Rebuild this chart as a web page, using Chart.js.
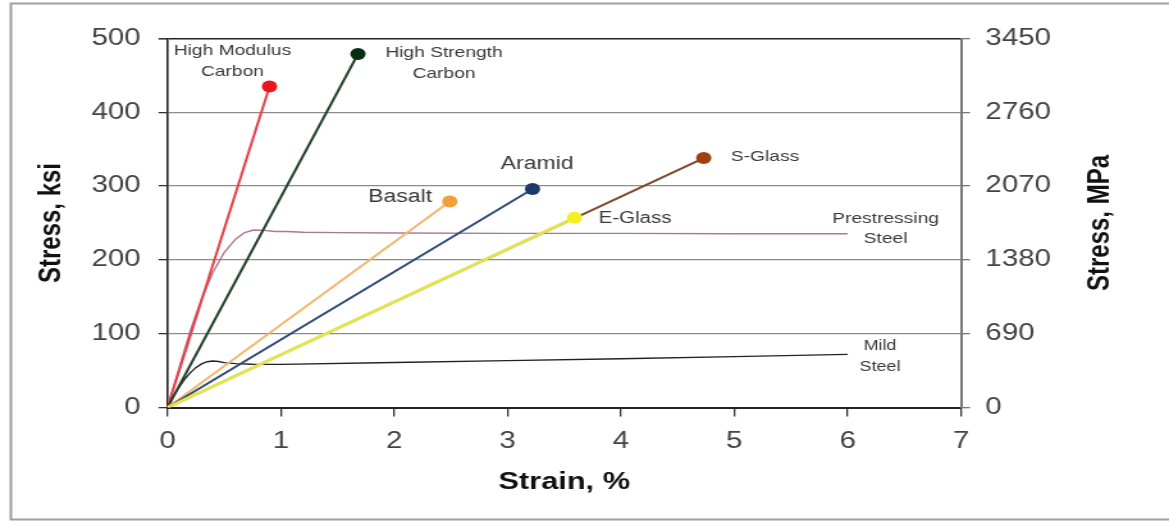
<!DOCTYPE html>
<html>
<head>
<meta charset="utf-8">
<title>Stress-strain curves</title>
<script src="https://cdn.jsdelivr.net/npm/chart.js@4.4.1/dist/chart.umd.min.js"></script>
<style>
  html, body { margin: 0; padding: 0; background: #fff; overflow: hidden; }
  /* the figure is laid out narrow and widened horizontally */
  #wrap { position: absolute; left: 0; top: 0; width: 913px; height: 521px;
          transform: scaleX(1.28039); transform-origin: 0 0; }
  canvas { display: block; }
</style>
</head>
<body>
<div id="wrap"><canvas id="c"></canvas></div>
<script>
// ---- tick values ----
const strainTicks = [0, 1, 2, 3, 4, 5, 6, 7];
const ksiTicks = [0, 100, 200, 300, 400, 500];
const mpaTicks = [0, 690, 1380, 2070, 2760, 3450];

// ---- material curves (strain in %, stress in ksi) ----
const highModulusStrain = [0, 0.90];
const highModulusStress = [0, 435];
const highStrengthStrain = [0, 1.68];
const highStrengthStress = [0, 479];
const basaltStrain = [0, 2.49];
const basaltStress = [0, 279];
const aramidStrain = [0, 3.22];
const aramidStress = [0, 296];
const eGlassStrain = [0, 3.59];
const eGlassStress = [0, 257];
const sGlassStrain = [0, 4.73];
const sGlassStress = [0, 338];
const prestressStrain = [0, 0.1, 0.2, 0.3, 0.4, 0.5, 0.6, 0.68, 0.76, 0.85, 0.95, 1.05, 1.2, 1.5, 2, 3, 4, 5, 6];
const prestressStress = [0, 52, 103, 147, 183, 210, 228, 237, 240.5, 240, 238.5, 238.5, 237.5, 237, 236.5, 236, 236, 235.5, 235.5];
const mildStrain = [0, 0.05, 0.1, 0.15, 0.2, 0.25, 0.3, 0.35, 0.4, 0.45, 0.5, 0.6, 0.75, 1, 2, 3, 4, 5, 6];
const mildStress = [0, 14, 27, 38, 47, 54, 59, 62, 63, 62.3, 60.8, 59.5, 58.6, 58.5, 61, 63.5, 66, 69, 72];

// ---- curve names ----
const seriesNames = ['Prestressing Steel', 'Mild Steel', 'High Modulus Carbon', 'High Strength Carbon',
                     'Basalt', 'Aramid', 'S-Glass', 'E-Glass'];

const toPoints = (xs, ys) => xs.map((x, i) => ({ x: x, y: ys[i] }));

// styling for each curve; a lower layer number is painted later (on top)
function curve(label, xs, ys, line, dot, width, withDot, layer) {
  return {
    label: label,
    data: toPoints(xs, ys),
    showLine: true,
    borderColor: line,
    backgroundColor: dot,
    borderWidth: width,
    pointRadius: ctx => (withDot && ctx.dataIndex === xs.length - 1) ? 6 : 0,
    pointHoverRadius: 0,
    pointBorderWidth: 0,
    tension: 0,
    order: layer
  };
}

const datasets = [
  curve(seriesNames[0], prestressStrain, prestressStress, '#b07590', '#b07590', 1.4, false, 8),
  curve(seriesNames[1], mildStrain, mildStress, '#222222', '#222222', 1.4, false, 7),
  curve(seriesNames[2], highModulusStrain, highModulusStress, '#e5414a', '#e8161e', 2, true, 6),
  curve(seriesNames[3], highStrengthStrain, highStrengthStress, '#24432b', '#0a2e12', 2, true, 5),
  curve(seriesNames[4], basaltStrain, basaltStress, '#f2b870', '#f0a03a', 2, true, 4),
  curve(seriesNames[5], aramidStrain, aramidStress, '#2f4b76', '#1b3b66', 2, true, 3),
  curve(seriesNames[6], sGlassStrain, sGlassStress, '#7a4a30', '#a0400f', 2, true, 2),
  curve(seriesNames[7], eGlassStrain, eGlassStress, '#e4e450', '#f5f022', 3, true, 1)
];

// text placed beside the curves (strain, ksi of the block centre)
const curveLabels = [
  { lines: ['High Modulus', 'Carbon'], x: 0.573, y: 469.5, size: 15, lh: 21 },
  { lines: ['High Strength', 'Carbon'], x: 2.439, y: 466.1, size: 15, lh: 21 },
  { lines: ['Basalt'], x: 2.051, y: 285.2, size: 18, lh: 21 },
  { lines: ['Aramid'], x: 3.260, y: 330.2, size: 18, lh: 21 },
  { lines: ['E-Glass'], x: 4.124, y: 256.1, size: 16, lh: 21 },
  { lines: ['S-Glass'], x: 5.271, y: 339.4, size: 15, lh: 21 },
  { lines: ['Prestressing', 'Steel'], x: 6.334, y: 241.9, size: 15, lh: 20 },
  { lines: ['Mild', 'Steel'], x: 6.285, y: 69.1, size: 14, lh: 21 }
];

const FONT = "'Liberation Sans', Arial, sans-serif";

const curveLabelPlugin = {
  id: 'curveLabels',
  afterDatasetsDraw(chart) {
    const { ctx, scales } = chart;
    ctx.save();
    ctx.fillStyle = '#3a3a3a';
    ctx.textAlign = 'center';
    ctx.textBaseline = 'middle';
    curveLabels.forEach(l => {
      const cx = scales.x.getPixelForValue(l.x);
      const cy = scales.y.getPixelForValue(l.y);
      ctx.font = l.size + 'px ' + FONT;
      const top = cy - (l.lines.length - 1) * l.lh / 2;
      l.lines.forEach((t, i) => ctx.fillText(t, cx, top + i * l.lh));
    });
    ctx.restore();
  }
};

// outer frame and the MPa axis title (reads bottom to top)
const framePlugin = {
  id: 'frame',
  beforeDraw(chart) {
    const { ctx, width, height } = chart;
    ctx.save();
    ctx.fillStyle = '#ffffff';
    ctx.fillRect(0, 0, width, height);
    ctx.strokeStyle = '#a0a0a0';
    ctx.lineWidth = 2;
    ctx.beginPath();
    ctx.moveTo(width, 3.5);
    ctx.lineTo(8.5, 3.5);
    ctx.lineTo(8.5, 519.5);
    ctx.lineTo(width, 519.5);
    ctx.stroke();
    ctx.restore();
  },
  afterDraw(chart) {
    const { ctx } = chart;
    const area = chart.chartArea;
    ctx.save();
    ctx.translate(859, (area.top + area.bottom) / 2);
    ctx.rotate(-Math.PI / 2);
    ctx.font = 'bold 24px ' + FONT;
    ctx.fillStyle = '#111';
    ctx.textAlign = 'center';
    ctx.textBaseline = 'middle';
    ctx.fillText('Stress, MPa', 0, 0);
    ctx.restore();
  }
};

const tickFont = { family: FONT, size: 23 };
const plainNumber = v => String(v);

new Chart(document.getElementById('c'), {
  type: 'scatter',
  data: { datasets: datasets },
  plugins: [framePlugin, curveLabelPlugin],
  options: {
    responsive: true,
    maintainAspectRatio: false,
    animation: false,
    events: [],
    layout: { padding: { top: 38.5, left: 0, right: 0, bottom: 0 } },
    plugins: { legend: { display: false }, tooltip: { enabled: false } },
    scales: {
      x: {
        type: 'linear', position: 'bottom', min: 0, max: 7,
        afterBuildTicks: s => { s.ticks = strainTicks.map(v => ({ value: v })); },
        afterFit: s => { s.height = 113.5; },
        ticks: { font: tickFont, color: '#444', padding: 11, callback: plainNumber },
        grid: { drawOnChartArea: false, drawTicks: true, tickLength: 9, tickColor: '#333', lineWidth: 1.3 },
        border: { display: true, color: '#222', width: 2 },
        title: { display: true, text: 'Strain, %', color: '#111',
                 font: { family: FONT, size: 24, weight: 'bold' }, padding: { top: 0, bottom: 24.6 } }
      },
      y: {
        type: 'linear', position: 'left', min: 0, max: 500,
        afterBuildTicks: s => { s.ticks = ksiTicks.map(v => ({ value: v })); },
        afterFit: s => { s.width = 130.8; },
        ticks: { font: tickFont, color: '#444', padding: 14, callback: plainNumber },
        grid: {
          color: c => (c.tick && (c.tick.value === 500 || c.tick.value === 0)) ? '#222' : '#8c8c8c',
          lineWidth: c => (c.tick && c.tick.value === 500) ? 1.6 : 1.3,
          tickLength: 7, tickColor: '#333', drawTicks: true
        },
        border: { display: true, color: '#222', width: 1.6 },
        title: { display: true, text: 'Stress, ksi', color: '#111',
                 font: { family: FONT, size: 24, weight: 'bold' }, padding: { top: 25.6, bottom: 0 } }
      },
      y2: {
        type: 'linear', position: 'right', min: 0, max: 3450,
        afterBuildTicks: s => { s.ticks = mpaTicks.map(v => ({ value: v })); },
        afterFit: s => { s.width = 913 - 750.6; },
        ticks: { font: tickFont, color: '#444', padding: 12, callback: plainNumber },
        grid: { drawOnChartArea: false, drawTicks: true, tickLength: 7, tickColor: '#777', lineWidth: 1.3 },
        border: { display: true, color: '#777', width: 2 }
      }
    }
  }
});
</script>
</body>
</html>
